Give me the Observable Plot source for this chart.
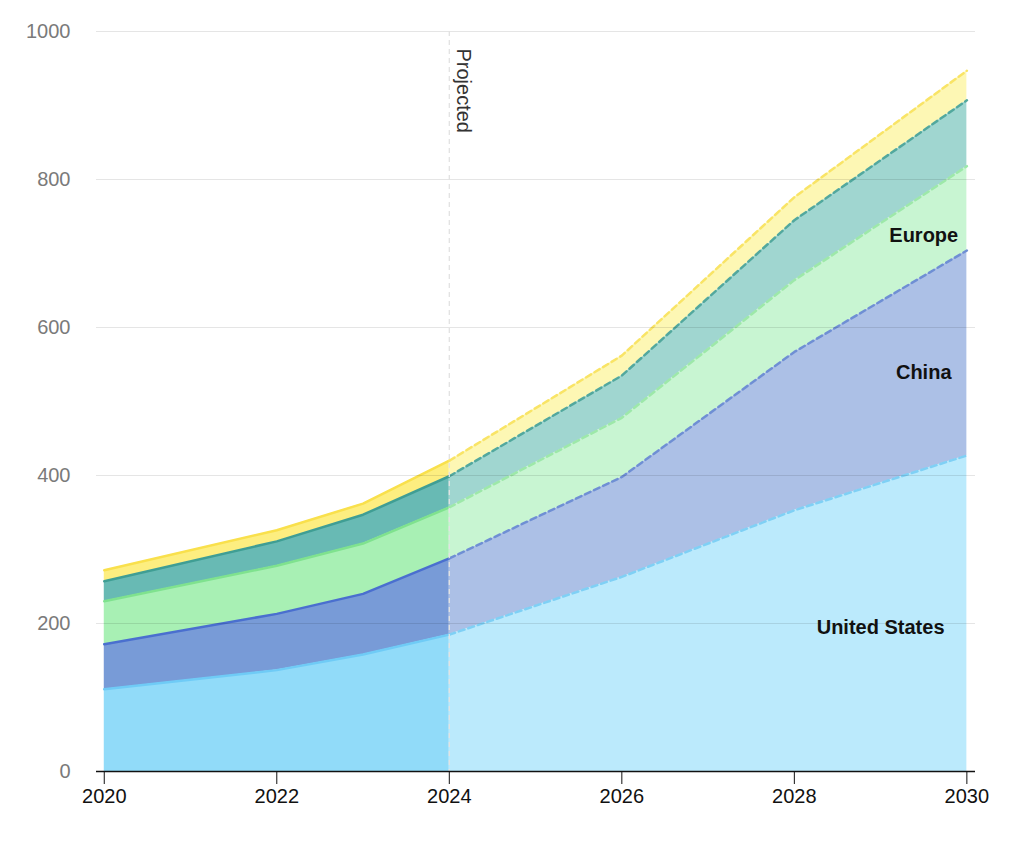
<!DOCTYPE html>
<html>
<head>
<meta charset="utf-8">
<script src="https://cdn.jsdelivr.net/npm/d3@7"></script>
<script src="https://cdn.jsdelivr.net/npm/@observablehq/plot@0.6"></script>
<style>
  html, body { margin: 0; padding: 0; background: #fff; }
  #chart svg { display: block; }
</style>
</head>
<body>
<div id="chart"></div>
<script>
// ---- Data ----
const years   = [2020, 2022, 2023, 2024, 2026, 2028, 2030];
const projectionStart = 2024;
const seriesNames = ["United States", "China", "Europe", "Japan", "Rest of world"];
const unitedStates = [111, 137, 158, 185, 263, 353, 427];
const china        = [ 61,  76,  82, 103, 135, 214, 277];
const europe       = [ 58,  65,  68,  69,  80,  97, 114];
const japan        = [ 27,  33,  39,  42,  57,  81,  89];
const restOfWorld  = [ 15,  15,  15,  21,  27,  31,  40];
const yTicks = [0, 200, 400, 600, 800, 1000];
const xTicks = [2020, 2022, 2024, 2026, 2028, 2030];
const labelledSeries = ["United States", "China", "Europe"];
const labelYears     = [2029, 2029.5, 2029.5];
const projectedLabel = "Projected";

// ---- Styles ----
const histFill = ["#91dbf9", "#789bd7", "#a8f0b4", "#68bab4", "#fdee80"];
const projFill = ["#bbeafc", "#acc0e6", "#c8f5d2", "#a0d6d0", "#fdf7b4"];
const lineColor = ["#6fcbf6", "#4a6fcf", "#7fe28e", "#3f9e94", "#f9e04c"];
const projLineColor = ["#7fd0f5", "#6f8fd4", "#9de8a9", "#52a89e", "#f9e466"];

// ---- Build stacked rows ----
const values = [unitedStates, china, europe, japan, restOfWorld];
const rows = [];
years.forEach((year, j) => {
  let base = 0;
  values.forEach((vals, i) => {
    rows.push({series: seriesNames[i], idx: i, year, y1: base, y2: base + vals[j]});
    base += vals[j];
  });
});
const hist = rows.filter(d => d.year <= projectionStart);
const proj = rows.filter(d => d.year >= projectionStart);

// label positions: middle of a layer at given year (linear between data years)
function layerMid(name, yr) {
  const r = rows.filter(d => d.series === name);
  const lo = r.filter(d => d.year <= yr).pop();
  const hi = r.find(d => d.year >= yr);
  const t = hi.year === lo.year ? 0 : (yr - lo.year) / (hi.year - lo.year);
  const m = d => (d.y1 + d.y2) / 2;
  return m(lo) + t * (m(hi) - m(lo));
}
const labels = labelledSeries.map((name, k) => ({name, year: labelYears[k], y: layerMid(name, labelYears[k])}));

const marks = [];
values.forEach((_, i) => {
  marks.push(Plot.areaY(hist.filter(d => d.idx === i), {x: "year", y1: "y1", y2: "y2", fill: histFill[i], curve: "linear"}));
  marks.push(Plot.areaY(proj.filter(d => d.idx === i), {x: "year", y1: "y1", y2: "y2", fill: projFill[i], curve: "linear"}));
});
values.forEach((_, i) => {
  marks.push(Plot.lineY(hist.filter(d => d.idx === i), {x: "year", y: "y2", stroke: lineColor[i], strokeWidth: 2.5, curve: "linear", strokeLinejoin: "round"}));
  marks.push(Plot.lineY(proj.filter(d => d.idx === i), {x: "year", y: "y2", stroke: projLineColor[i], strokeWidth: 2.5, strokeDasharray: "6,4", curve: "linear", strokeLinejoin: "round"}));
});

const chart = Plot.plot({
  width: 1024,
  height: 844,
  marginLeft: 96,
  marginRight: 49,
  marginTop: 31,
  marginBottom: 73,
  style: {fontFamily: "'Liberation Sans', Arial, sans-serif", background: "#fff"},
  x: {domain: [2019.91, 2030.1], label: null},
  y: {domain: [0, 1000], label: null},
  marks: [
    ...marks,
    Plot.ruleY(yTicks.filter(t => t > 0), {stroke: "#000", strokeOpacity: 0.1, strokeWidth: 1.2}),
    Plot.ruleX([projectionStart], {stroke: "#e2e2e2", strokeWidth: 1.3, strokeDasharray: "5,4"}),
    Plot.text([projectedLabel], {x: projectionStart, y: 1000, rotate: 90, textAnchor: "start", dx: 14, dy: 17, fontSize: 20, fill: "#333"}),
    Plot.text(labels, {x: "year", y: "y", text: "name", fontSize: 20, fontWeight: "bold", fill: "#111"}),
    Plot.ruleY([0], {stroke: "#111", strokeWidth: 1.5}),
    Plot.axisY({ticks: yTicks, tickSize: 0, tickPadding: 26, tickFormat: d => String(d), fontSize: 20, fill: "#7a7a7a", label: null}),
    Plot.axisX({ticks: xTicks, tickSize: 13, tickPadding: 4, tickFormat: d => String(d), fontSize: 20, fill: "#111", stroke: "#111", label: null, style: {letterSpacing: "-0.8px"}})
  ]
});
document.getElementById("chart").appendChild(chart);
</script>
</body>
</html>
